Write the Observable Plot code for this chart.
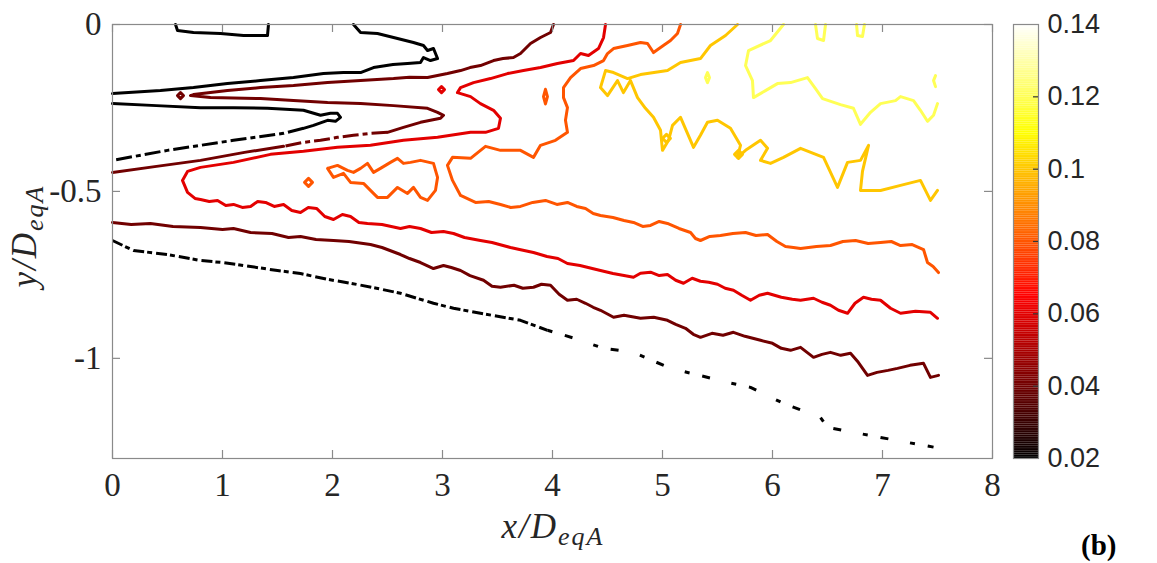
<!DOCTYPE html>
<html><head><meta charset="utf-8">
<script src="https://cdn.jsdelivr.net/npm/d3@7"></script>
<script src="https://cdn.jsdelivr.net/npm/@observablehq/plot@0.6"></script>
<style>
body{margin:0;background:#fff;}
#wrap{position:relative;width:1157px;height:563px;overflow:hidden;background:#fff;}
#main{position:absolute;left:0;top:0;}
#cbar{position:absolute;left:1000px;top:0;}
#tag{position:absolute;left:1081px;top:529px;font:bold 29px "Liberation Serif",serif;color:#000;}
</style></head><body>
<div id="wrap"><div id="main"></div><div id="cbar"></div><div id="tag">(b)</div></div>
<script>
// ---- axis ticks ----
const xTicks = [0,1,2,3,4,5,6,7,8];
const yTicks = [0,-0.5,-1];
const cbTicks = [0.02,0.04,0.06,0.08,0.1,0.12,0.14];
const cbDomain = [0.02,0.14];

// ---- contour level 0.02 (black) ----
const c02_topBox = [[0.573,0],[0.591,-0.018],[0.736,-0.024],[0.982,-0.027],[1.191,-0.033],[1.409,-0.033],[1.418,0]];
const c02_upper = [[2.191,0],[2.255,-0.024],[2.409,-0.027],[2.555,-0.039],[2.736,-0.054],[2.827,-0.063],[2.864,-0.078],[2.918,-0.072],[2.955,-0.102],[2.891,-0.108],[2.827,-0.099],[2.8,-0.114],[2.682,-0.117],[2.55,-0.120],[2.373,-0.129],[2.255,-0.144],[2.1,-0.144],[1.918,-0.147],[1.645,-0.159],[1.345,-0.168],[1.045,-0.177],[0.736,-0.189],[0.436,-0.198],[0,-0.207]];
const c02_lower = [[0,-0.237],[0.4,-0.243],[0.8,-0.249],[1.1,-0.249],[1.409,-0.251],[1.736,-0.257],[1.891,-0.272],[1.982,-0.266],[2.045,-0.266],[2.073,-0.278],[2.027,-0.290],[1.955,-0.287],[1.827,-0.302],[1.736,-0.311]];
const c02_lowerBroken = [[1.736,-0.311],[1.555,-0.326],[1.1,-0.347],[0.5,-0.377],[0,-0.407]];
const c02_bottomA = [[0,-0.647],[0.191,-0.677],[0.5,-0.689],[0.8,-0.707],[1.0,-0.713],[1.255,-0.725],[1.5,-0.737],[1.709,-0.746],[1.95,-0.763],[2.164,-0.775],[2.4,-0.790],[2.618,-0.805],[2.918,-0.835],[3.1,-0.850],[3.345,-0.865],[3.709,-0.886],[3.955,-0.916]];
const c02_bottomB = [[3.955,-0.916],[4.2,-0.940],[4.464,-0.970],[4.736,-0.982],[5.073,-1.030],[5.3,-1.048],[5.591,-1.072],[5.8,-1.087],[6.1,-1.135],[6.436,-1.177],[6.5,-1.207],[6.982,-1.237],[7.464,-1.266]];

// ---- contour level 0.04 (dark red) ----
const c04_dot = [[0.591,-0.213],[0.618,-0.204],[0.645,-0.213],[0.618,-0.222],[0.591,-0.213]];
const c04_main = [[4.009,0],[3.982,-0.024],[3.891,-0.039],[3.8,-0.057],[3.709,-0.087],[3.645,-0.099],[3.55,-0.102],[3.464,-0.108],[3.345,-0.123],[3.25,-0.129],[3.164,-0.138],[3.045,-0.147],[2.864,-0.159],[2.7,-0.158],[2.555,-0.162],[2.255,-0.168],[1.955,-0.174],[1.645,-0.183],[1.345,-0.189],[1.045,-0.198],[0.736,-0.210],[0.709,-0.213],[0.891,-0.219],[1.345,-0.222],[1.645,-0.228],[1.955,-0.234],[2.255,-0.237],[2.555,-0.243],[2.864,-0.251],[2.955,-0.263],[3.009,-0.272],[2.982,-0.281],[2.891,-0.287],[2.8,-0.293],[2.645,-0.308],[2.5,-0.323]];
const c04_broken = [[2.5,-0.323],[2.345,-0.326],[2.191,-0.332],[2.045,-0.338],[1.891,-0.347],[1.736,-0.353],[1.555,-0.365]];
const c04_left = [[1.555,-0.365],[1.2,-0.383],[0.8,-0.407],[0.4,-0.425],[0,-0.443]];
const c04_bottom = [[0,-0.593],[0.17,-0.599],[0.345,-0.596],[0.55,-0.605],[0.8,-0.608],[1.0,-0.614],[1.1,-0.611],[1.255,-0.623],[1.45,-0.626],[1.6,-0.638],[1.709,-0.635],[1.85,-0.644],[2.009,-0.647],[2.15,-0.650],[2.345,-0.659],[2.45,-0.668],[2.618,-0.689],[2.7,-0.701],[2.8,-0.713],[2.918,-0.731],[3.009,-0.722],[3.08,-0.728],[3.164,-0.737],[3.25,-0.752],[3.373,-0.766],[3.45,-0.784],[3.527,-0.787],[3.65,-0.781],[3.73,-0.790],[3.827,-0.787],[3.9,-0.778],[3.982,-0.781],[4.06,-0.808],[4.136,-0.826],[4.22,-0.823],[4.3,-0.835],[4.37,-0.847],[4.436,-0.856],[4.555,-0.877],[4.65,-0.871],[4.8,-0.880],[4.92,-0.877],[5.045,-0.886],[5.12,-0.898],[5.209,-0.910],[5.28,-0.928],[5.345,-0.937],[5.45,-0.925],[5.55,-0.931],[5.645,-0.922],[5.75,-0.934],[5.891,-0.946],[6.0,-0.955],[6.08,-0.970],[6.164,-0.976],[6.255,-0.967],[6.373,-0.997],[6.45,-0.988],[6.527,-0.982],[6.62,-0.991],[6.709,-0.985],[6.78,-1.012],[6.864,-1.051],[6.95,-1.042],[7.05,-1.036],[7.136,-1.030],[7.25,-1.021],[7.373,-1.015],[7.436,-1.057],[7.509,-1.051]];

// ---- contour level 0.06 (red) ----
const c06_main = [[4.482,0],[4.464,-0.039],[4.418,-0.072],[4.327,-0.093],[4.255,-0.087],[4.191,-0.108],[4.045,-0.117],[3.891,-0.129],[3.736,-0.138],[3.591,-0.147],[3.436,-0.162],[3.282,-0.174],[3.164,-0.189],[3.136,-0.204],[3.255,-0.216],[3.345,-0.237],[3.464,-0.257],[3.527,-0.281],[3.509,-0.311],[3.391,-0.323],[3.255,-0.323],[2.955,-0.338],[2.645,-0.347],[2.345,-0.362],[2.045,-0.368],[1.736,-0.380],[1.436,-0.389],[1.1,-0.413],[0.8,-0.428],[0.682,-0.440],[0.636,-0.467],[0.682,-0.503],[0.75,-0.521],[0.8,-0.524],[0.88,-0.530],[0.955,-0.527],[1.03,-0.542],[1.1,-0.539],[1.18,-0.548],[1.255,-0.545],[1.32,-0.530],[1.391,-0.533],[1.47,-0.545],[1.555,-0.539],[1.63,-0.557],[1.709,-0.563],[1.78,-0.548],[1.855,-0.551],[1.93,-0.575],[2.009,-0.584],[2.09,-0.569],[2.164,-0.575],[2.24,-0.593],[2.318,-0.596],[2.45,-0.599],[2.618,-0.611],[2.7,-0.605],[2.8,-0.611],[2.9,-0.623],[3.009,-0.620],[3.1,-0.626],[3.2,-0.638],[3.345,-0.647],[3.45,-0.653],[3.618,-0.668],[3.7,-0.674],[3.827,-0.683],[3.95,-0.695],[4.05,-0.701],[4.136,-0.716],[4.25,-0.722],[4.436,-0.737],[4.55,-0.746],[4.65,-0.752],[4.736,-0.757],[4.8,-0.745],[4.891,-0.742],[4.97,-0.752],[5.045,-0.749],[5.12,-0.766],[5.191,-0.775],[5.27,-0.760],[5.345,-0.769],[5.42,-0.772],[5.5,-0.778],[5.57,-0.790],[5.645,-0.796],[5.72,-0.811],[5.8,-0.826],[5.88,-0.811],[5.955,-0.805],[6.08,-0.817],[6.18,-0.823],[6.255,-0.826],[6.373,-0.820],[6.45,-0.832],[6.527,-0.841],[6.6,-0.856],[6.682,-0.865],[6.75,-0.835],[6.827,-0.817],[6.9,-0.823],[6.982,-0.826],[7.073,-0.850],[7.164,-0.865],[7.3,-0.859],[7.436,-0.862],[7.5,-0.880]];
const c06_loop = [[2.964,-0.195],[2.991,-0.186],[3.018,-0.195],[2.991,-0.204],[2.964,-0.195]];

// ---- contour level 0.08 (orange) ----
const c08_main = [[5.164,0],[5.136,-0.027],[5.073,-0.048],[4.982,-0.069],[4.918,-0.084],[4.864,-0.057],[4.8,-0.054],[4.682,-0.063],[4.555,-0.072],[4.5,-0.087],[4.464,-0.108],[4.373,-0.123],[4.255,-0.132],[4.164,-0.159],[4.1,-0.189],[4.1,-0.219],[4.136,-0.249],[4.118,-0.287],[4.136,-0.323],[4.027,-0.347],[3.891,-0.362],[3.827,-0.398],[3.709,-0.377],[3.527,-0.377],[3.391,-0.365],[3.255,-0.401],[3.091,-0.398],[3.045,-0.422],[3.091,-0.467],[3.164,-0.512],[3.3,-0.533],[3.42,-0.530],[3.527,-0.539],[3.62,-0.548],[3.709,-0.545],[3.82,-0.533],[3.936,-0.527],[4.04,-0.539],[4.136,-0.533],[4.22,-0.545],[4.3,-0.551],[4.37,-0.566],[4.436,-0.572],[4.55,-0.578],[4.65,-0.587],[4.736,-0.593],[4.82,-0.605],[4.891,-0.602],[4.97,-0.590],[5.045,-0.596],[5.15,-0.611],[5.255,-0.623],[5.3,-0.641],[5.345,-0.647],[5.43,-0.635],[5.527,-0.632],[5.64,-0.626],[5.755,-0.623],[5.85,-0.632],[5.955,-0.629],[6.04,-0.650],[6.118,-0.665],[6.19,-0.668],[6.255,-0.671],[6.4,-0.665],[6.527,-0.662],[6.64,-0.650],[6.755,-0.647],[6.87,-0.656],[6.982,-0.653],[7.08,-0.650],[7.164,-0.662],[7.27,-0.659],[7.373,-0.674],[7.409,-0.713],[7.46,-0.725],[7.509,-0.743]];
const c08_island = [[1.955,-0.431],[2.045,-0.422],[2.136,-0.437],[2.191,-0.443],[2.255,-0.431],[2.318,-0.416],[2.373,-0.443],[2.436,-0.431],[2.527,-0.413],[2.591,-0.401],[2.645,-0.416],[2.709,-0.413],[2.8,-0.407],[2.918,-0.416],[2.955,-0.458],[2.936,-0.497],[2.864,-0.527],[2.8,-0.518],[2.736,-0.488],[2.682,-0.506],[2.591,-0.488],[2.5,-0.518],[2.409,-0.518],[2.345,-0.497],[2.282,-0.476],[2.164,-0.473],[2.1,-0.446],[2.009,-0.458],[1.955,-0.431]];
const c08_loop = [[1.746,-0.473],[1.782,-0.461],[1.818,-0.473],[1.782,-0.485],[1.746,-0.473]];
const c08_blob = [[3.918,-0.216],[3.936,-0.194],[3.954,-0.216],[3.936,-0.238],[3.918,-0.216]];

// ---- contour level 0.10 (gold) ----
const c10_main = [[5.682,0],[5.573,-0.033],[5.436,-0.063],[5.345,-0.102],[5.164,-0.114],[5.045,-0.138],[4.8,-0.150],[4.682,-0.162],[4.555,-0.144],[4.482,-0.138],[4.436,-0.189],[4.5,-0.213],[4.591,-0.168],[4.645,-0.204],[4.709,-0.168],[4.773,-0.219],[4.845,-0.251],[4.918,-0.278],[4.982,-0.317],[5.0,-0.377],[5.055,-0.347],[5.091,-0.302],[5.164,-0.278],[5.227,-0.326],[5.282,-0.368],[5.345,-0.332],[5.409,-0.293],[5.5,-0.287],[5.618,-0.311],[5.709,-0.362],[5.682,-0.398],[5.755,-0.377],[5.891,-0.347],[5.955,-0.371],[5.891,-0.407],[5.982,-0.416],[6.1,-0.398],[6.255,-0.371],[6.464,-0.398],[6.591,-0.488],[6.682,-0.413],[6.8,-0.407],[6.873,-0.362],[6.818,-0.440],[6.8,-0.497],[6.982,-0.497],[7.164,-0.482],[7.345,-0.467],[7.436,-0.527],[7.5,-0.497]];
const c10_loopA = [[5.0,-0.341],[5.036,-0.329],[5.072,-0.341],[5.036,-0.353],[5.0,-0.341]];
const c10_loopB = [[5.655,-0.389],[5.691,-0.377],[5.727,-0.389],[5.691,-0.401],[5.655,-0.389]];

// ---- contour level 0.12 (yellow) ----
const c12_main = [[6.1,0],[5.982,-0.048],[5.782,-0.078],[5.755,-0.123],[5.818,-0.168],[5.827,-0.219],[5.936,-0.198],[6.045,-0.177],[6.164,-0.174],[6.318,-0.159],[6.391,-0.192],[6.455,-0.222],[6.618,-0.240],[6.736,-0.251],[6.8,-0.299],[6.891,-0.263],[6.982,-0.237],[7.118,-0.228],[7.164,-0.216],[7.282,-0.228],[7.345,-0.257],[7.409,-0.290],[7.464,-0.272],[7.5,-0.237]];
const c12_loop = [[5.391,-0.159],[5.409,-0.144],[5.427,-0.159],[5.409,-0.174],[5.391,-0.159]];
const c12_topA = [[6.391,0],[6.409,-0.042],[6.464,-0.048],[6.482,0]];
const c12_topB = [[6.764,0],[6.773,-0.033],[6.818,-0.036],[6.836,0]];
const c12_arc = [[7.482,-0.153],[7.464,-0.168],[7.482,-0.186]];

// ---- assemble segments ----
const segments = [
  {level:0.02, style:"solid", pts:c02_topBox},
  {level:0.02, style:"solid", pts:c02_upper},
  {level:0.02, style:"solid", pts:c02_lower},
  {level:0.02, style:"broken", pts:c02_lowerBroken},
  {level:0.02, style:"dotA", pts:c02_bottomA},
  {level:0.02, style:"dotB", pts:c02_bottomB},
  {level:0.04, style:"solid", pts:c04_dot},
  {level:0.04, style:"solid", pts:c04_main},
  {level:0.04, style:"broken", pts:c04_broken},
  {level:0.04, style:"solid", pts:c04_left},
  {level:0.04, style:"solid", pts:c04_bottom},
  {level:0.06, style:"solid", pts:c06_main},
  {level:0.06, style:"solid", pts:c06_loop},
  {level:0.08, style:"solid", pts:c08_main},
  {level:0.08, style:"solid", pts:c08_island},
  {level:0.08, style:"solid", pts:c08_loop},
  {level:0.08, style:"solid", pts:c08_blob},
  {level:0.10, style:"solid", pts:c10_main},
  {level:0.10, style:"solid", pts:c10_loopA},
  {level:0.10, style:"solid", pts:c10_loopB},
  {level:0.12, style:"solid", pts:c12_main},
  {level:0.12, style:"solid", pts:c12_loop},
  {level:0.12, style:"solid", pts:c12_topA},
  {level:0.12, style:"solid", pts:c12_topB},
  {level:0.12, style:"solid", pts:c12_arc}
];
const rows = [];
segments.forEach((s,i)=>s.pts.forEach(([x,y])=>rows.push({x,y,level:s.level,style:s.style,seg:i})));

// MATLAB "hot" colormap
function hot(t){
  const c = v => Math.round(255*Math.max(0,Math.min(1,v)));
  return `rgb(${c(t/0.375)},${c((t-0.375)/0.375)},${c((t-0.75)/0.25)})`;
}
const colorScale = {type:"linear", domain:cbDomain, interpolate:hot};

const frameW = 880, frameH = 434, tickLen = 8;
const lineOpts = (style, dash) => ({x:"x", y:"y", z:"seg", stroke:"level", strokeWidth:3, strokeLinejoin:"round", strokeLinecap: dash ? "butt" : "round", strokeDasharray: dash, filter: d => d.style === style});

const main = Plot.plot({
  width:1000, height:563,
  marginLeft:112, marginRight:8, marginTop:24, marginBottom:105,
  x:{domain:[0,8]}, y:{domain:[-1.3,0]},
  color:colorScale,
  style:{fontFamily:"'Liberation Serif', serif", color:"#262626", background:"#fff", overflow:"visible"},
  marks:[
    Plot.line(rows, lineOpts("solid")),
    Plot.line(rows, lineOpts("broken", "16,4,5,4")),
    Plot.line(rows, lineOpts("dotA", "11,3,5,4")),
    Plot.line(rows, lineOpts("dotB", "5,13,8,22")),
    Plot.frame({stroke:"#8a8a8a", strokeWidth:1.2}),
    Plot.tickX(xTicks, {x:d=>d, insetTop:frameH-tickLen, stroke:"#8a8a8a", strokeWidth:1.2}),
    Plot.tickX(xTicks, {x:d=>d, insetBottom:frameH-tickLen, stroke:"#8a8a8a", strokeWidth:1.2}),
    Plot.tickY(yTicks, {y:d=>d, insetRight:frameW-tickLen, stroke:"#8a8a8a", strokeWidth:1.2}),
    Plot.tickY(yTicks, {y:d=>d, insetLeft:frameW-tickLen, stroke:"#8a8a8a", strokeWidth:1.2}),
    Plot.axisX({ticks:xTicks, tickSize:0, tickPadding:14, tickFormat:d=>String(d), fontSize:33, label:null}),
    Plot.axisY({ticks:yTicks, tickSize:0, tickPadding:11, tickFormat:d=>String(d), fontSize:33, label:null})
  ]
});
document.getElementById("main").appendChild(main);

// axis titles (math-style italic with subscripts)
const svg = d3.select(main);
const xl = svg.append("text").attr("x",553).attr("y",538).attr("text-anchor","middle")
  .attr("font-family","'Liberation Serif', serif").attr("font-style","italic").attr("font-size",35)
  .attr("letter-spacing","2px").attr("fill","#262626");
xl.append("tspan").text("x/D");
xl.append("tspan").attr("font-size",26).attr("dy",7).text("eqA");
const yl = svg.append("text").attr("transform","translate(36,236) rotate(-90)").attr("text-anchor","middle")
  .attr("font-family","'Liberation Serif', serif").attr("font-style","italic").attr("font-size",35)
  .attr("letter-spacing","2px").attr("fill","#262626");
yl.append("tspan").text("y/D");
yl.append("tspan").attr("font-size",26).attr("dy",7).text("eqA");

// colorbar
const cbN = 240;
const cbStep = (cbDomain[1]-cbDomain[0])/cbN;
const cbSteps = d3.range(0, cbN).map(i => cbDomain[0] + i*cbStep);
const cbar = Plot.plot({
  width:157, height:563,
  marginLeft:13, marginRight:119, marginTop:24, marginBottom:105,
  x:{domain:[0,1], axis:null}, y:{domain:cbDomain},
  color:colorScale,
  style:{fontFamily:"'Liberation Sans', Arial, sans-serif", color:"#262626", background:"#fff", overflow:"visible"},
  marks:[
    Plot.rect(cbSteps, {x1:0, x2:1, y1:d=>d, y2:d=>d+cbStep*1.02, fill:d=>d+cbStep/2}),
    Plot.frame({stroke:"#8a8a8a", strokeWidth:1.2}),
    Plot.tickY(cbTicks.slice(1,-1), {y:d=>d, insetLeft:20, stroke:"#333", strokeWidth:1.2}),
    Plot.axisY({anchor:"right", ticks:cbTicks, tickSize:0, tickPadding:9, tickFormat:d=>String(d), fontSize:27, label:null})
  ]
});
document.getElementById("cbar").appendChild(cbar);
</script>
</body></html>
